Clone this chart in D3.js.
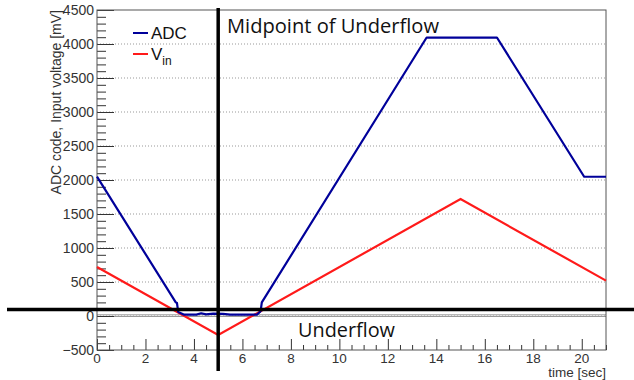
<!DOCTYPE html>
<html>
<head>
<meta charset="utf-8">
<script src="https://cdn.jsdelivr.net/npm/d3@7"></script>
<style>
  body { margin: 0; background: #fff; }
  svg { display: block; }
  .ax, .ax text { font-family: "Liberation Sans", Arial, sans-serif; fill: #333; }
  .note { font-family: "Open Sans", "Noto Sans", sans-serif; fill: #111; }
</style>
</head>
<body>
<svg id="chart" width="634" height="380"></svg>
<script>
// ADC 输出 (time, code)
const adcTime = [0, 3.25, 3.3, 3.35, 3.6, 4.1, 4.3, 4.5, 4.8, 5.2, 5.5, 6.6, 6.75, 6.8, 13.6, 16.5, 20.1, 21];
const adcCode = [2050, 200, 190, 60, 20, 20, 40, 25, 35, 30, 20, 20, 70, 200, 4095, 4095, 2048, 2048];

// 输入电压 (time, mV)
const vinTime = [0, 5, 15, 21];
const vinMv = [720, -280, 1720, 520];

const xTicks = [0, 2, 4, 6, 8, 10, 12, 14, 16, 18, 20];
const yTicks = [-500, 0, 500, 1000, 1500, 2000, 2500, 3000, 3500, 4000, 4500];
const gridVals = [0, 500, 1000, 1500, 2000, 2500, 3000, 3500, 4000];
const midpointTime = 5;

const svg = d3.select('#chart');
const margin = { left: 97, right: 28, top: 10, bottom: 30 };
const W = 634, H = 380;

const x = d3.scaleLinear().domain([0, 21]).range([margin.left, W - margin.right]);
const y = d3.scaleLinear().domain([-500, 4500]).range([H - margin.bottom, margin.top]);

// 网格线
svg.append('g')
    .selectAll('line')
    .data(gridVals)
    .join('line')
    .attr('x1', x(0)).attr('x2', x(21))
    .attr('y1', d => y(d)).attr('y2', d => y(d))
    .attr('stroke', '#999')
    .attr('stroke-width', 1)
    .attr('stroke-dasharray', '1,2');

// 零线 (灰色双线)
[0, 25].forEach(v => {
    svg.append('line')
        .attr('x1', x(0)).attr('x2', x(21))
        .attr('y1', y(v) + 0.5).attr('y2', y(v) + 0.5)
        .attr('stroke', '#999').attr('stroke-width', 1);
});

// 坐标轴 (刻度朝内)
const xAxis = d3.axisTop(x).tickValues(d3.range(0, 21.01, 0.5))
    .tickSize(5).tickFormat('');
const gx = svg.append('g').attr('class', 'ax')
    .attr('transform', `translate(0,${y(-500)})`)
    .call(xAxis);
gx.select('.domain').remove();
gx.selectAll('.tick line')
    .attr('stroke', '#333')
    .attr('y2', d => (d % 2 === 0 ? -11 : -5));
svg.append('g').attr('class', 'ax')
    .selectAll('text')
    .data(xTicks)
    .join('text')
    .attr('x', d => x(d))
    .attr('y', y(-500) + 13)
    .attr('text-anchor', 'middle')
    .attr('font-size', 13.5)
    .text(d => d);

const yAxis = d3.axisRight(y).tickValues(d3.range(-500, 4501, 100))
    .tickSize(8).tickFormat('');
const gy = svg.append('g').attr('class', 'ax')
    .attr('transform', `translate(${x(0)},0)`)
    .call(yAxis);
gy.select('.domain').remove();
gy.selectAll('.tick line')
    .attr('stroke', '#333')
    .attr('x2', d => (d % 500 === 0 ? 17 : 9));
svg.append('g').attr('class', 'ax')
    .selectAll('text')
    .data(yTicks)
    .join('text')
    .attr('x', x(0) - 3)
    .attr('y', d => y(d) + 5)
    .attr('text-anchor', 'end')
    .attr('font-size', 14)
    .text(d => (d < 0 ? '\u2212' + Math.abs(d) : d));

// 边框
svg.append('rect')
    .attr('x', x(0)).attr('y', y(4500))
    .attr('width', x(21) - x(0)).attr('height', y(-500) - y(4500))
    .attr('fill', 'none')
    .attr('stroke', '#555').attr('stroke-width', 1);

// 轴标题
svg.append('text').attr('class', 'ax')
    .attr('transform', `translate(61,${y(4500)}) rotate(-90)`)
    .attr('text-anchor', 'end')
    .attr('font-size', 14)
    .text('ADC code, Input voltage [mV]');
svg.append('text').attr('class', 'ax')
    .attr('x', x(21)).attr('y', 377)
    .attr('text-anchor', 'end')
    .attr('font-size', 13.5)
    .text('time [sec]');

// 曲线
const line = d3.line().x(d => x(d[0])).y(d => y(d[1]));
const vinData = vinTime.map((t, i) => [t, vinMv[i]]);
const adcData = adcTime.map((t, i) => [t, adcCode[i]]);

svg.append('path').datum(vinData)
    .attr('d', line)
    .attr('fill', 'none').attr('stroke', '#ff1a1a').attr('stroke-width', 2.2);
svg.append('path').datum(adcData)
    .attr('d', line)
    .attr('fill', 'none').attr('stroke', '#00009a').attr('stroke-width', 2.2)
    .attr('stroke-linejoin', 'round');

// 图例
const legend = svg.append('g').attr('class', 'ax');
legend.append('line').attr('x1', 133).attr('x2', 148).attr('y1', 33).attr('y2', 33)
    .attr('stroke', '#00009a').attr('stroke-width', 2);
legend.append('text').attr('x', 151).attr('y', 39).attr('font-size', 17).style('fill', '#111')
    .text('ADC');
legend.append('line').attr('x1', 133).attr('x2', 148).attr('y1', 54).attr('y2', 54)
    .attr('stroke', '#ff1a1a').attr('stroke-width', 2);
const vt = legend.append('text').attr('x', 151).attr('y', 60).attr('font-size', 17).style('fill', '#111');
vt.append('tspan').text('V');
vt.append('tspan').attr('dy', 5).attr('font-size', 12).text('in');

// 标注线
svg.append('line')
    .attr('x1', x(midpointTime)).attr('x2', x(midpointTime))
    .attr('y1', 8).attr('y2', 371)
    .attr('stroke', '#000').attr('stroke-width', 3.5);
svg.append('line')
    .attr('x1', 7).attr('x2', W)
    .attr('y1', 309.5).attr('y2', 309.5)
    .attr('stroke', '#000').attr('stroke-width', 3.5);

svg.append('text').attr('class', 'note')
    .attr('x', 227).attr('y', 33)
    .attr('font-size', 20)
    .attr('textLength', 212).attr('lengthAdjust', 'spacingAndGlyphs')
    .text('Midpoint of Underflow');
svg.append('text').attr('class', 'note')
    .attr('x', 298).attr('y', 337)
    .attr('font-size', 20)
    .attr('textLength', 97).attr('lengthAdjust', 'spacingAndGlyphs')
    .text('Underflow');
</script>
</body>
</html>
